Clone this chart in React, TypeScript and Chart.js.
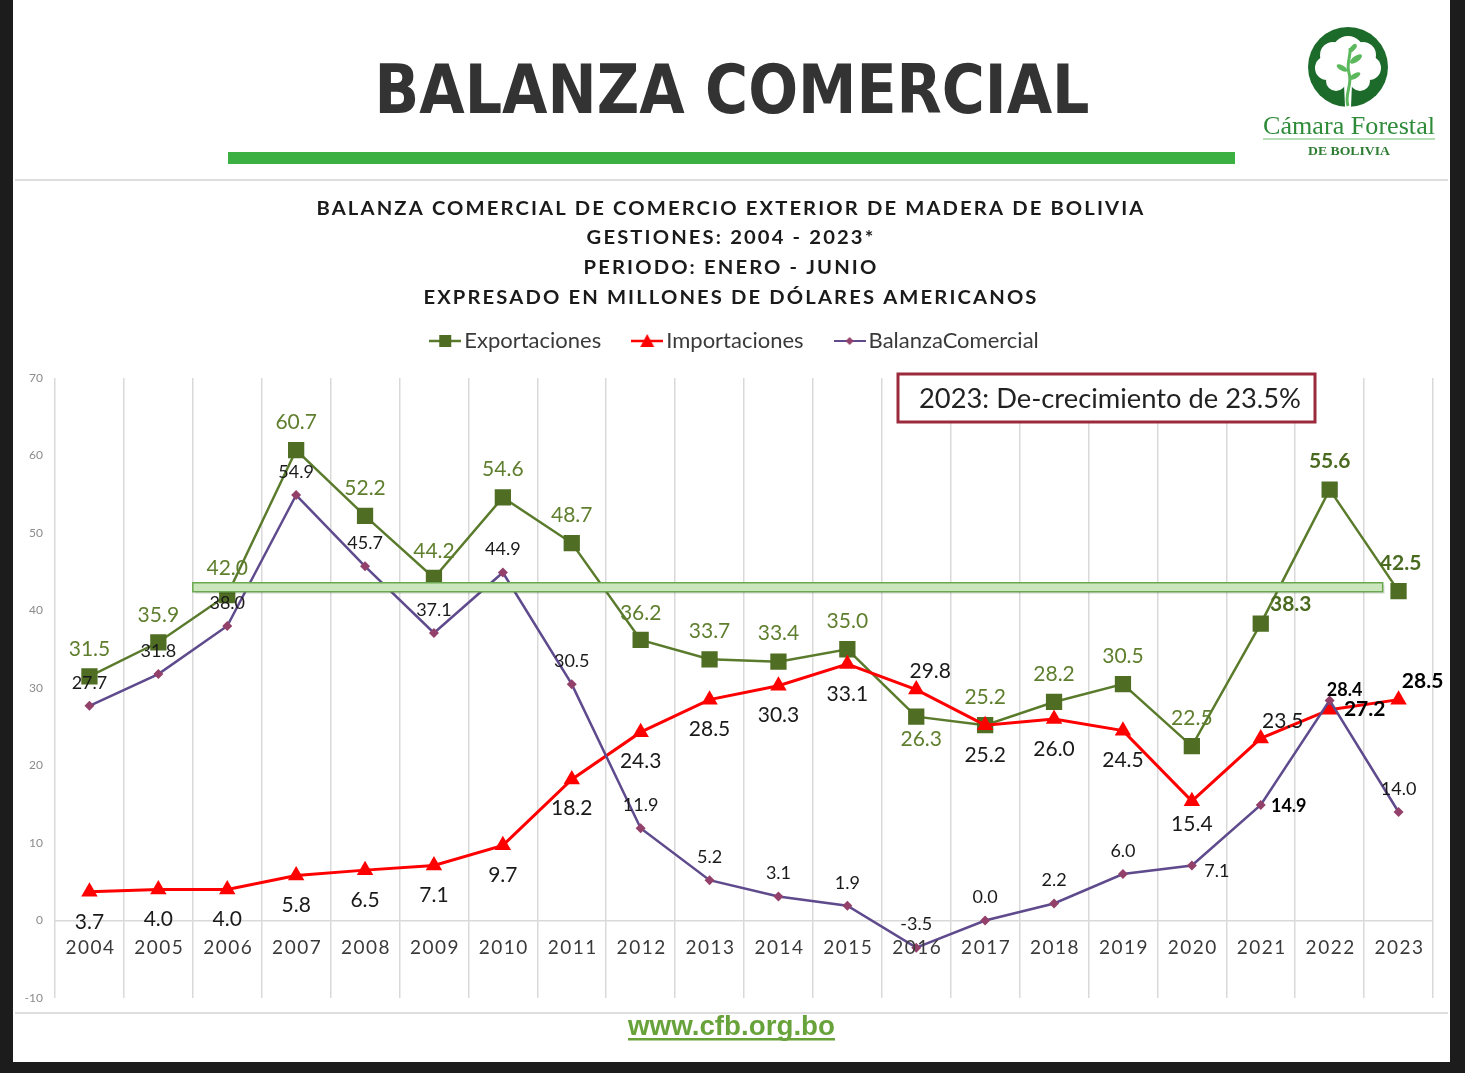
import { useEffect, useRef } from 'react';
import { Chart, registerables } from 'chart.js';

Chart.register(...registerables);

// ---------------- data ----------------
const years = ['2004', '2005', '2006', '2007', '2008', '2009', '2010', '2011', '2012', '2013', '2014', '2015', '2016', '2017', '2018', '2019', '2020', '2021', '2022', '2023'];
const exportaciones = [31.5, 35.9, 42.0, 60.7, 52.2, 44.2, 54.6, 48.7, 36.2, 33.7, 33.4, 35.0, 26.3, 25.2, 28.2, 30.5, 22.5, 38.3, 55.6, 42.5];
const importaciones = [3.7, 4.0, 4.0, 5.8, 6.5, 7.1, 9.7, 18.2, 24.3, 28.5, 30.3, 33.1, 29.8, 25.2, 26.0, 24.5, 15.4, 23.5, 27.2, 28.5];
const balanzaComercial = [27.7, 31.8, 38.0, 54.9, 45.7, 37.1, 44.9, 30.5, 11.9, 5.2, 3.1, 1.9, -3.5, 0.0, 2.2, 6.0, 7.1, 14.9, 28.4, 14.0];
const seriesNames = ['Exportaciones', 'Importaciones', 'BalanzaComercial'];
const yTickValues = [-10, 0, 10, 20, 30, 40, 50, 60, 70];
const referenceLevel = 43;

const headerTitle = 'BALANZA COMERCIAL';
const subtitleLines = [
  'BALANZA COMERCIAL DE COMERCIO EXTERIOR DE MADERA DE BOLIVIA',
  'GESTIONES: 2004 - 2023*',
  'PERIODO: ENERO - JUNIO',
  'EXPRESADO EN MILLONES DE DÓLARES AMERICANOS',
];
const annotationText = '2023: De-crecimiento de 23.5%';
const footerText = 'www.cfb.org.bo';

// ---------------- label placement (style, not data) ----------------
type Off = [number, number, boolean?];
const exportLabelOffsets: Off[] = [
  [0, -27], [0, -27], [0, -27], [0, -28], [0, -28], [0, -27], [0, -28], [0, -28], [0, -27], [0, -28],
  [0, -28], [0, -28], [5, 23], [0, -28], [0, -28], [0, -28], [0, -28], [30, -19, true], [0, -28, true], [2, -28, true],
];
const importLabelOffsets: Off[] = [
  [0, 30], [0, 30], [0, 30], [0, 30], [0, 30], [0, 30], [0, 30], [0, 29], [0, 29], [0, 30],
  [0, 30], [0, 30], [14, -18], [0, 30], [0, 30], [0, 30], [0, 23], [22, -17], [35, 0, true], [24, -18, true],
];
const balanzaLabelOffsets: Off[] = [
  [0, -23], [0, -23], [0, -23], [0, -23], [0, -23], [0, -23], [0, -23], [0, -23], [0, -23], [0, -23],
  [0, -23], [0, -23], [0, -23], [0, -23], [0, -23], [0, -23], [25, 6], [28, 1, true], [15, -10, true], [0, -23],
];

const GREEN_LINE = '#5b7b2c';
const GREEN_MARK = '#4f6d23';
const RED = '#ff0000';
const PURPLE_LINE = '#5e4a8c';
const PURPLE_MARK = '#93416a';

function makeIcon(kind: 'rect' | 'tri' | 'dia', line: string, fill: string, lw: number) {
  const c = document.createElement('canvas');
  c.width = 32;
  c.height = 16;
  const g = c.getContext('2d')!;
  g.strokeStyle = line;
  g.lineWidth = lw;
  g.beginPath();
  g.moveTo(0, 8);
  g.lineTo(32, 8);
  g.stroke();
  g.fillStyle = fill;
  g.beginPath();
  if (kind === 'rect') {
    g.rect(10, 2, 12, 12);
  } else if (kind === 'tri') {
    g.moveTo(16, 1);
    g.lineTo(23, 14);
    g.lineTo(9, 14);
    g.closePath();
  } else {
    g.moveTo(16, 4);
    g.lineTo(20, 8);
    g.lineTo(16, 12);
    g.lineTo(12, 8);
    g.closePath();
  }
  g.fill();
  return c;
}

function drawFitted(ctx: CanvasRenderingContext2D, text: string, font: string, cx: number, y: number, target: number | null, color: string, spacing = 0) {
  ctx.save();
  ctx.font = font;
  (ctx as any).letterSpacing = spacing + 'px';
  ctx.fillStyle = color;
  ctx.textAlign = 'center';
  ctx.textBaseline = 'alphabetic';
  const w = ctx.measureText(text).width;
  ctx.translate(cx, y);
  if (target) ctx.scale(target / w, 1);
  ctx.fillText(text, 0, 0);
  ctx.restore();
}

const decorPlugin = {
  id: 'decor',
  beforeUpdate(chart: any) {
    const lg = chart.legend;
    if (lg && !lg.__patched) {
      lg.__patched = true;
      const fit = lg.fit.bind(lg);
      lg.fit = function () {
        fit();
        this.height += 16;
      };
      const draw = lg.draw.bind(lg);
      lg.draw = function () {
        const c = chart.ctx;
        c.save();
        c.translate(14, 0);
        draw();
        c.restore();
      };
    }
  },
  beforeDraw(chart: any) {
    const ctx: CanvasRenderingContext2D = chart.ctx;
    const W = chart.width;
    const H = chart.height;
    ctx.save();
    ctx.fillStyle = '#ffffff';
    ctx.fillRect(0, 0, W, H);
    // gray frame lines
    ctx.fillStyle = '#dedede';
    ctx.fillRect(15, 179, 1433, 2);
    ctx.fillRect(15, 1012, 1433, 2);
    // header
    drawFitted(ctx, headerTitle, 'bold 68px "DejaVu Sans"', 732, 113, 715, '#333333');
    ctx.fillStyle = '#3cb043';
    ctx.fillRect(228, 152, 1007, 12);
    // subtitle
    ctx.font = 'bold 19px Lato';
    (ctx as any).letterSpacing = '2px';
    const w1 = ctx.measureText(subtitleLines[0]).width;
    (ctx as any).letterSpacing = '0px';
    const k = 829 / w1;
    const baselines = [215, 244, 274, 304];
    subtitleLines.forEach((t, i) => {
      ctx.font = 'bold 19px Lato';
      (ctx as any).letterSpacing = '2px';
      const w = ctx.measureText(t).width;
      (ctx as any).letterSpacing = '0px';
      drawFitted(ctx, t, 'bold 19px Lato', 731, baselines[i], w * k, '#1a1a1a', 2);
    });
    // footer
    drawFitted(ctx, footerText, 'bold 27px "Liberation Sans"', 731.5, 1035, 207, '#68a23a');
    ctx.fillStyle = '#68a23a';
    ctx.fillRect(628, 1038, 207, 2.5);
    // dark borders
    ctx.fillStyle = '#1c1c1c';
    ctx.fillRect(0, 0, 13, H);
    ctx.fillRect(1450, 0, 15, H);
    ctx.fillRect(0, 1062, W, H - 1062);
    ctx.restore();
  },
  afterDatasetsDraw(chart: any) {
    const ctx: CanvasRenderingContext2D = chart.ctx;
    const xs = chart.scales.x;
    const ys = chart.scales.y;
    ctx.save();
    // reference band
    const bx0 = xs.getPixelForValue(1.5);
    const bx1 = xs.getPixelForValue(18.77);
    const by = ys.getPixelForValue(referenceLevel);
    ctx.fillStyle = 'rgba(0,0,0,0.12)';
    ctx.fillRect(bx0 + 2, by - 2.5, bx1 - bx0, 9);
    ctx.fillStyle = '#cbe6bd';
    ctx.strokeStyle = '#6aa84f';
    ctx.lineWidth = 1.5;
    ctx.fillRect(bx0, by - 4.5, bx1 - bx0, 9);
    ctx.strokeRect(bx0, by - 4.5, bx1 - bx0, 9);

    // category labels at zero line
    const y0 = ys.getPixelForValue(0);
    ctx.fillStyle = '#3a3a3a';
    ctx.font = '19px Lato';
    (ctx as any).letterSpacing = '1.5px';
    ctx.textAlign = 'center';
    ctx.textBaseline = 'middle';
    years.forEach((yr, i) => {
      ctx.fillText(yr, xs.getPixelForValue(i) + 1, y0 + 27);
    });
    (ctx as any).letterSpacing = '0px';

    // data labels
    const cfg = [
      { offs: exportLabelOffsets, size: 21, color: '#5f7f2f', bold: '#4a6a1f' },
      { offs: importLabelOffsets, size: 21, color: '#1a1a1a', bold: '#000000' },
      { offs: balanzaLabelOffsets, size: 18, color: '#1a1a1a', bold: '#000000' },
    ];
    chart.data.datasets.forEach((ds: any, di: number) => {
      const meta = chart.getDatasetMeta(di);
      const c = cfg[di];
      meta.data.forEach((el: any, i: number) => {
        const [dx, dy, b] = c.offs[i];
        ctx.font = (b ? 'bold ' : '') + c.size + 'px Lato';
        ctx.fillStyle = b ? c.bold : c.color;
        ctx.fillText(Number(ds.data[i]).toFixed(1), el.x + dx, el.y + dy);
      });
    });

    // annotation box
    ctx.fillStyle = '#ffffff';
    ctx.fillRect(898, 374, 417, 48);
    ctx.strokeStyle = '#9b2a3c';
    ctx.lineWidth = 3;
    ctx.strokeRect(898, 374, 417, 48);
    ctx.restore();
    drawFitted(ctx, annotationText, '27px Lato', 1110, 408, 382, '#222222');
  },
};

export default function App() {
  const ref = useRef<HTMLCanvasElement | null>(null);

  useEffect(() => {
    if (!ref.current) return;
    const icons = [
      makeIcon('rect', GREEN_LINE, GREEN_MARK, 2.5),
      makeIcon('tri', RED, RED, 2.5),
      makeIcon('dia', PURPLE_LINE, PURPLE_MARK, 2),
    ];
    const chart = new Chart(ref.current, {
      type: 'line',
      data: {
        labels: years,
        datasets: [
          {
            label: seriesNames[0],
            data: exportaciones,
            borderColor: GREEN_LINE,
            backgroundColor: GREEN_MARK,
            borderWidth: 2.5,
            pointStyle: 'rect',
            pointRadius: 11.5,
            pointBackgroundColor: GREEN_MARK,
            pointBorderColor: GREEN_MARK,
            pointBorderWidth: 0,
            tension: 0,
            order: 3,
          },
          {
            label: seriesNames[1],
            data: importaciones,
            borderColor: RED,
            backgroundColor: RED,
            borderWidth: 3,
            pointStyle: 'triangle',
            pointRadius: 9.5,
            pointBackgroundColor: RED,
            pointBorderColor: RED,
            pointBorderWidth: 0,
            tension: 0,
            order: 2,
          },
          {
            label: seriesNames[2],
            data: balanzaComercial,
            borderColor: PURPLE_LINE,
            backgroundColor: PURPLE_MARK,
            borderWidth: 2.5,
            pointStyle: 'rectRot',
            pointRadius: 5,
            pointBackgroundColor: PURPLE_MARK,
            pointBorderColor: PURPLE_MARK,
            pointBorderWidth: 0,
            tension: 0,
            order: 1,
          },
        ],
      },
      options: {
        responsive: false,
        maintainAspectRatio: false,
        animation: false,
        events: [],
        layout: { padding: { top: 292, left: 15, right: 32, bottom: 75 } },
        plugins: {
          title: { display: false },
          tooltip: { enabled: false },
          legend: {
            display: true,
            position: 'top',
            labels: {
              usePointStyle: true,
              pointStyleWidth: 16,
              padding: 38,
              color: '#3a3a3a',
              font: { family: 'Lato', size: 22 },
              generateLabels: (c: any) =>
                c.data.datasets.map((ds: any, i: number) => ({
                  text: ds.label,
                  fillStyle: ds.backgroundColor,
                  strokeStyle: ds.borderColor,
                  lineWidth: 0,
                  pointStyle: icons[i],
                  hidden: false,
                  datasetIndex: i,
                  fontColor: '#3a3a3a',
                })),
            },
          },
        },
        scales: {
          x: {
            type: 'category',
            offset: true,
            grid: { offset: true, drawTicks: false, color: '#d9d9d9', lineWidth: 1.5 },
            border: { display: false },
            ticks: { display: false },
          },
          y: {
            min: -10,
            max: 70,
            afterFit: (s: any) => {
              s.width = 40;
            },
            afterBuildTicks: (s: any) => {
              s.ticks = yTickValues.map((v) => ({ value: v }));
            },
            grid: {
              drawTicks: false,
              color: (c: any) => (c.tick && c.tick.value === 0 ? '#d9d9d9' : 'rgba(0,0,0,0)'),
              lineWidth: 1.5,
            },
            border: { display: false },
            ticks: { padding: 12, color: '#8c8c8c', font: { family: 'Lato', size: 12 } },
          },
        },
      },
      plugins: [decorPlugin],
    } as any);
    return () => chart.destroy();
  }, []);

  return (
    <div style={{ position: 'absolute', left: 0, top: 0, width: 1465, height: 1073, background: '#fff', overflow: 'hidden' }}>
      <canvas ref={ref} width={1465} height={1073} style={{ position: 'absolute', left: 0, top: 0, width: 1465, height: 1073 }} />
      <svg style={{ position: 'absolute', left: 1255, top: 18 }} width={195} height={145}>
        <circle cx={93} cy={49} r={40} fill="#1d6b2b" />
        <g fill="#ffffff">
          <circle cx={93} cy={34} r={16} />
          <circle cx={78} cy={37} r={13} />
          <circle cx={108} cy={37} r={13} />
          <circle cx={72} cy={50} r={12} />
          <circle cx={114} cy={50} r={12} />
          <circle cx={93} cy={50} r={18} />
          <circle cx={81} cy={63} r={10} />
          <circle cx={105} cy={63} r={10} />
          <path d="M89 66 L97 66 L96 89 L90 89 Z" />
        </g>
        <path d="M93 88 C 89 76, 98 66, 94 55 C 91 46, 96 38, 95 30" stroke="#5cb85c" strokeWidth={3} fill="none" />
        <ellipse cx={101} cy={41} rx={7} ry={3} fill="#5cb85c" transform="rotate(-35 101 41)" />
        <ellipse cx={87} cy={50} rx={6} ry={2.5} fill="#5cb85c" transform="rotate(30 87 50)" />
        <ellipse cx={100} cy={58} rx={6} ry={2.5} fill="#5cb85c" transform="rotate(-30 100 58)" />
        <ellipse cx={98} cy={30} rx={5} ry={2.5} fill="#5cb85c" transform="rotate(-50 98 30)" />
        <text x={94} y={116} textAnchor="middle" fontFamily="'Liberation Serif', 'DejaVu Serif', serif" fontSize={25} fill="#2e8b3a" textLength={172} lengthAdjust="spacingAndGlyphs">
          Cámara Forestal
        </text>
        <line x1={8} x2={180} y1={121} y2={121} stroke="#9fd49f" strokeWidth={1.5} />
        <text x={94} y={137} textAnchor="middle" fontFamily="'Liberation Serif', 'DejaVu Serif', serif" fontWeight="bold" fontSize={13} fill="#2e7d32" textLength={82} lengthAdjust="spacingAndGlyphs">
          DE BOLIVIA
        </text>
      </svg>
    </div>
  );
}
